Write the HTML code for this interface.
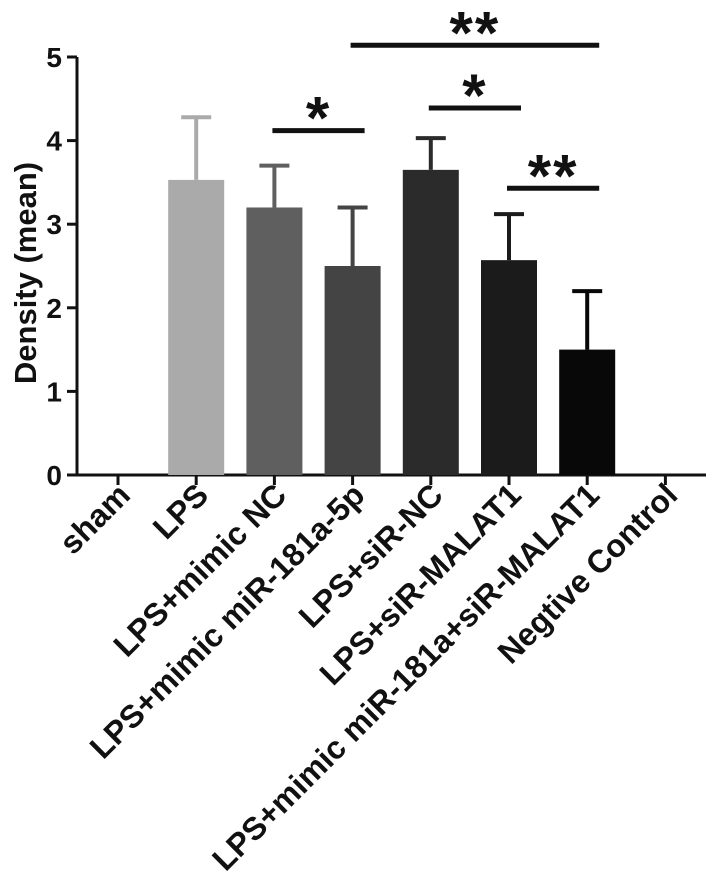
<!DOCTYPE html>
<html><head><meta charset="utf-8"><style>
html,body{margin:0;padding:0;background:#fff}
svg{display:block}
text{font-family:"Liberation Sans",Arial,sans-serif;font-weight:bold;fill:#111}
</style></head><body>
<svg id="chart" width="708" height="890"></svg>
<script>
const categories=["sham","LPS","LPS+mimic NC","LPS+mimic miR-181a-5p","LPS+siR-NC","LPS+siR-MALAT1","LPS+mimic miR-181a+siR-MALAT1","Negtive Control"];
const means=[0,3.53,3.2,2.5,3.65,2.57,1.5,0];
const errors=[0,0.75,0.5,0.7,0.38,0.55,0.7,0];
const colors=["#fff","#aaaaaa","#5f5f5f","#444444","#2b2b2b","#1b1b1b","#080808","#fff"];
const yTicks=[0,1,2,3,4,5];
const sigPairs=[[2,3,"*",4.12],[4,5,"*",4.39],[3,6,"**",5.14],[5,6,"**",3.43]];
const NS="http://www.w3.org/2000/svg";
const svg=document.getElementById('chart');
const x0=77,xStep=78.2,y0=475,yUnit=83.6;
function xs(i){return 118+i*xStep;}
function ys(v){return y0-v*yUnit;}
function mk(t,a,p){const e=document.createElementNS(NS,t);for(const k in a)e.setAttribute(k,a[k]);(p||svg).appendChild(e);return e;}
let ya=mk('line',{x1:x0,y1:ys(5),x2:x0,y2:y0+1.5,stroke:'#111','stroke-width':3});


let xa=mk('line',{x1:x0-1.5,y1:y0,x2:706,y2:y0,stroke:'#111','stroke-width':3});


yTicks.forEach(v=>{
  const t=mk('line',{x1:x0-10,y1:ys(v),x2:x0,y2:ys(v),stroke:'#111','stroke-width':3});
  
  
  const l=mk('text',{x:x0-15,y:ys(v)+10,'text-anchor':'end','font-size':28});
  l.textContent=v;
  
  
});
const yt=mk('text',{x:0,y:0,'text-anchor':'middle','font-size':31,transform:'translate(36,273) rotate(-90)'});
yt.textContent='Density (mean)';


categories.forEach((c,i)=>{
  const cx=xs(i);
  const t=mk('line',{x1:cx,y1:y0,x2:cx,y2:y0+10,stroke:'#111','stroke-width':3});
  
  
  const l=mk('text',{x:0,y:0,'text-anchor':'end','font-size':32,transform:`translate(${cx+14},${y0+22}) rotate(-45)`});
  l.textContent=c;
  
  
  if(means[i]>0){
    const top=ys(means[i]);
    const b=mk('rect',{x:cx-28,y:top,width:56,height:y0-top,fill:colors[i]});
    
    
    const et=ys(means[i]+errors[i]);
    const g=mk('g',{stroke:colors[i],'stroke-width':4});
    
    
    mk('line',{x1:cx,y1:top,x2:cx,y2:et},g);
    mk('line',{x1:cx-15,y1:et,x2:cx+15,y2:et},g);
  }
});
sigPairs.forEach(p=>{
  const xa1=xs(p[0])-2,xb=xs(p[1])+12,y=ys(p[3]);
  const l=mk('line',{x1:xa1,y1:y,x2:xb,y2:y,stroke:'#111','stroke-width':5});
  
  
  const s=mk('text',{x:(xa1+xb)/2,y:y+8,'text-anchor':'middle','font-size':60,'letter-spacing':2});
  s.textContent=p[2];
  
  
});
</script>
</body></html>
